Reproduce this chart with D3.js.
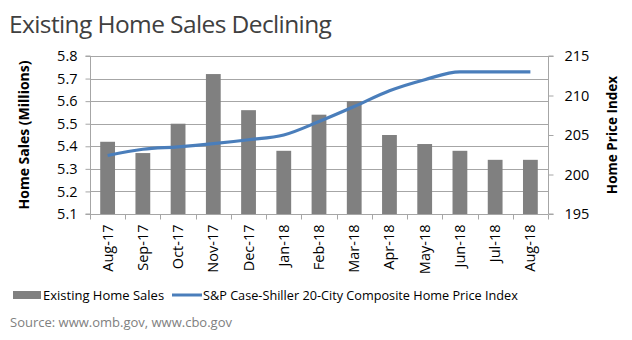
<!DOCTYPE html>
<html><head><meta charset="utf-8">
<script src="https://cdn.jsdelivr.net/npm/d3@7"></script>
<style>
html,body{margin:0;padding:0;background:#fff;}
svg{display:block;}
</style></head>
<body>
<svg id="chart" width="632" height="340"></svg>
<script>
const categories = ["Aug-17","Sep-17","Oct-17","Nov-17","Dec-17","Jan-18","Feb-18","Mar-18","Apr-18","May-18","Jun-18","Jul-18","Aug-18"];
const homeSales = [5.42,5.37,5.50,5.72,5.56,5.38,5.54,5.60,5.45,5.41,5.38,5.34,5.34];
const priceIndex = [202.4,203.2,203.5,203.9,204.4,205.0,206.7,208.6,210.6,212.0,213.0,213.0,213.0];
const leftTicks = [5.1,5.2,5.3,5.4,5.5,5.6,5.7,5.8];
const rightTicks = [195,200,205,210,215];

const svg = d3.select("#chart");
const font = "'Open Sans', sans-serif";
const m = {left:90, right:548, top:56, bottom:214};

const x = d3.scaleBand().domain(categories).range([m.left, m.right]).paddingInner(0.58).paddingOuter(0.29);
const xb = d3.scaleBand().domain(categories).range([m.left, m.right]);
const yL = d3.scaleLinear().domain([5.1,5.8]).range([m.bottom, m.top]);
const yR = d3.scaleLinear().domain([195,215]).range([m.bottom, m.top]);

const grid = "#a6a6a6";
const tickFs = 14.5;

// title
svg.append("text").attr("x",9).attr("y",33).attr("font-family",font).attr("font-size",24.5)
  .attr("fill","#404040").attr("letter-spacing","-0.6").text("Existing Home Sales Declining");

// gridlines
svg.append("g").selectAll("line").data(leftTicks).join("line")
  .attr("x1",m.left).attr("x2",m.right).attr("y1",d=>Math.round(yL(d))+0.5).attr("y2",d=>Math.round(yL(d))+0.5)
  .attr("stroke",grid).attr("stroke-width",1);

// left axis
const gL = svg.append("g").attr("transform",`translate(${m.left+0.5},0)`)
  .call(d3.axisLeft(yL).tickValues(leftTicks).tickFormat(d3.format(".1f")).tickSize(5).tickPadding(8));
// right axis
const gR = svg.append("g").attr("transform",`translate(${m.right+0.5},0)`)
  .call(d3.axisRight(yR).tickValues(rightTicks).tickSize(5).tickPadding(11));
[gL,gR].forEach(g=>{
  g.select(".domain").attr("stroke",grid);
  g.selectAll(".tick line").attr("stroke",grid);
  g.selectAll(".tick text").attr("font-family",font).attr("font-size",tickFs).attr("fill","#000");
});
gL.select(".domain").attr("d",`M-5,${yL(5.1)}H0V${yL(5.8)}H-5`);
gR.select(".domain").attr("d",`M5,${yR(195)}H0V${yR(215)}H5`);

// bars
svg.append("g").selectAll("rect").data(homeSales).join("rect")
  .attr("x",(d,i)=>x(categories[i])).attr("width",x.bandwidth())
  .attr("y",d=>yL(d)).attr("height",d=>yL(5.1)-yL(d))
  .attr("fill","#808080");

// x axis
const gX = svg.append("g").attr("transform",`translate(0,${m.bottom+0.5})`);
gX.append("line").attr("x1",m.left).attr("x2",m.right).attr("stroke",grid);
gX.selectAll("line.t").data(d3.range(categories.length+1)).join("line").attr("class","t")
  .attr("x1",i=>Math.round(m.left+i*xb.step())+0.5).attr("x2",i=>Math.round(m.left+i*xb.step())+0.5)
  .attr("y1",0).attr("y2",5).attr("stroke",grid);
gX.selectAll("text").data(categories).join("text")
  .attr("transform",d=>`translate(${xb(d)+xb.bandwidth()/2+5},10) rotate(-90)`)
  .attr("text-anchor","end").attr("font-family",font).attr("font-size",tickFs).attr("fill","#000").text(d=>d);

// line
const line = d3.line().x((d,i)=>xb(categories[i])+xb.bandwidth()/2).y(d=>yR(d)).curve(d3.curveMonotoneX);
svg.append("path").datum(priceIndex).attr("d",line).attr("fill","none")
  .attr("stroke","#4a7ebb").attr("stroke-width",3.2);

// axis titles
svg.append("text").attr("transform",`translate(29,${(m.top+m.bottom)/2}) rotate(-90)`)
  .attr("text-anchor","middle").attr("font-family",font).attr("font-weight","bold").attr("font-size",14)
  .attr("fill","#000").text("Home Sales (Millions)");
svg.append("text").attr("transform",`translate(617,${(m.top+m.bottom)/2}) rotate(-90)`)
  .attr("text-anchor","middle").attr("font-family",font).attr("font-weight","bold").attr("font-size",13.5)
  .attr("fill","#000").text("Home Price Index");

// legend
const lg = svg.append("g");
lg.append("rect").attr("x",13).attr("y",291).attr("width",28).attr("height",8).attr("fill","#808080");
lg.append("text").attr("x",43).attr("y",300).attr("font-family",font).attr("font-size",13).attr("fill","#000").text("Existing Home Sales");
lg.append("line").attr("x1",172).attr("x2",202).attr("y1",295).attr("y2",295).attr("stroke","#4a7ebb").attr("stroke-width",3);
lg.append("text").attr("x",203).attr("y",300).attr("font-family",font).attr("font-size",12.7).attr("fill","#000").text("S&P Case-Shiller 20-City Composite Home Price Index");

// source
svg.append("text").attr("x",10).attr("y",327).attr("font-family",font).attr("font-size",13)
  .attr("fill","#808080").text("Source: www.omb.gov, www.cbo.gov");
</script>
</body></html>
